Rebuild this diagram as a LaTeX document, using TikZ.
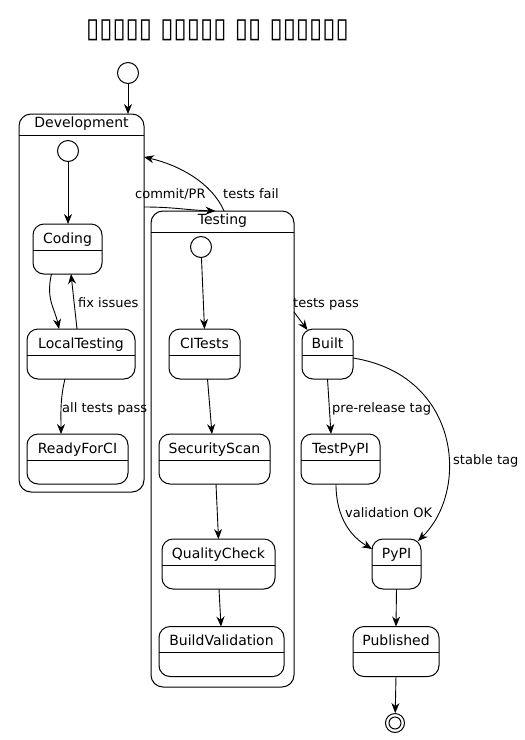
\documentclass[tikz,border=0pt]{standalone}
\usepackage{fontspec}
\setmainfont{DejaVu Sans}
\usepackage{tikz}
\usetikzlibrary{arrows.meta}

\newcommand{\umlstate}[5]{%
  \node [statebox,minimum width=#4pt] (#1) at (#2,#3) {};
  \draw [line width=1pt]([yshift=-26pt]#1.north west)--([yshift=-26pt]#1.north east);
  \node [statename] (#1-name) at ([yshift=-19pt]#1.north) {#5};
}
\newcommand{\umlgroup}[6]{%
  \node [groupbox,minimum width=#4pt,minimum height=#5pt] (#1) at (#2,#3) {};
  \draw [line width=1pt]([yshift=-21pt]#1.north west)--([yshift=-21pt]#1.north east);
  \node [statename] (#1-name) at ([yshift=-13pt]#1.north) {#6};
}

\begin{document}
\begin{tikzpicture}[x=1pt,y=-1pt,
    statebox/.style={draw,rounded corners=11pt,minimum height=50pt,outer sep=0pt,inner sep=0pt,line width=1pt},
    groupbox/.style={draw,rounded corners=12pt,outer sep=0pt,inner sep=0pt,line width=1pt},
    startdot/.style={draw,circle,minimum size=21pt,inner sep=0pt,line width=1pt},
    statename/.style={font=\fontsize{14}{16}\selectfont,anchor=base,inner sep=0pt},
    edgelabel/.style={font=\fontsize{13}{15}\selectfont,anchor=base west,inner sep=0pt},
    arr/.style={-{Stealth[length=10pt,width=8pt]},line width=0.9pt}]
          \useasboundingbox (0,0) rectangle (525,740);
          \node [font=\fontsize{24}{28}\selectfont\bfseries,anchor=base] (title) at (217.5,37) {\scalebox{1}[1.15]{▯▯▯▯▯ ▯▯▯▯▯ ▯▯ ▯▯▯▯▯▯}};

          \node [startdot] (start0) at (128,73) {};
          \umlgroup{dev}{81.5}{303}{125}{378}{Development}
          \node [startdot] (devinit) at (68,151) {};
          \umlstate{cod}{67.5}{249}{69}{Coding}
          \umlstate{lct}{81}{354}{108}{LocalTesting}
          \umlstate{rdy}{77.5}{459}{101}{ReadyForCI}

          \umlgroup{tst}{222.5}{449}{143}{476}{Testing}
          \node [startdot] (tstinit) at (201,247) {};
          \umlstate{cit}{204.5}{354}{71}{CITests}
          \umlstate{sec}{214.5}{459}{111}{SecurityScan}
          \umlstate{qual}{218.5}{564}{113}{QualityCheck}
          \umlstate{bval}{221.5}{651.5}{125}{BuildValidation}

          \umlstate{blt}{327.5}{354}{51}{Built}
          \umlstate{tpy}{340.5}{459}{79}{TestPyPI}
          \umlstate{pypi}{396.5}{564}{49}{PyPI}
          \umlstate{pub}{396}{651.5}{86}{Published}
          \node [startdot,minimum size=19pt] (endst) at (395,723) {};
          \draw [line width=1pt](endst.center) circle (6pt);

          \draw [arr](start0)--(start0 |- dev.north);
          \draw [arr](devinit)--(devinit |- cod.north);
          \draw [arr]([xshift=-16pt]cod.south) .. controls +(-6,25) and +(-4,-20) .. ([xshift=-22pt]lct.north);
          \draw [arr]([xshift=-4pt]lct.north)--([xshift=3.5pt]cod.south);
          \draw [arr]([xshift=-16pt]lct.south) .. controls +(-5,20) and +(0,-20) .. ([xshift=-16.5pt]rdy.north);
          \draw [arr]([yshift=-93pt]dev.north east) .. controls +(30,0) and +(-30,-1) .. ([xshift=-7pt]tst.north);
          \draw [arr]([xshift=1.5pt]tst.north) .. controls +(-12,-28) and +(35,8) .. ([yshift=-43pt]dev.north east);
          \draw [arr]([yshift=-101pt]tst.north east)--([xshift=-20pt,yshift=-1pt]blt.north);
          \draw [arr](tstinit)--(cit.north);
          \draw [arr]([xshift=3pt]cit.south)--([xshift=-2.5pt]sec.north);
          \draw [arr]([xshift=1.5pt]sec.south)--(qual.north);
          \draw [arr]([xshift=0.5pt]qual.south)--([xshift=-0.5pt]bval.north);
          \draw [arr](blt.south)--([xshift=-9.5pt]tpy.north);
          \draw [arr]([yshift=-4pt]blt.east) .. controls (460,375) and (470,490) .. ([xshift=-3pt,yshift=-2pt]pypi.north east);
          \draw [arr]([xshift=-4.5pt]tpy.south) .. controls +(0,35) and +(-20,-12) .. ([yshift=-10pt]pypi.north west);
          \draw [arr](pypi.south)--(pub.north);
          \draw [arr](pub.south)--(endst);

          \node [edgelabel] (lcommit) at (135,198) {commit/PR};
          \node [edgelabel] (lfail) at (223,198) {tests fail};
          \node [edgelabel] (lfix) at (78,307) {fix issues};
          \node [edgelabel] (lpass) at (293,307) {tests pass};
          \node [edgelabel] (lall) at (62,412) {all tests pass};
          \node [edgelabel] (lpre) at (332,412) {pre-release tag};
          \node [edgelabel] (lstable) at (453,464) {stable tag};
          \node [edgelabel] (lvalid) at (345,517) {validation OK};
        
          \end{tikzpicture}
\end{document}
